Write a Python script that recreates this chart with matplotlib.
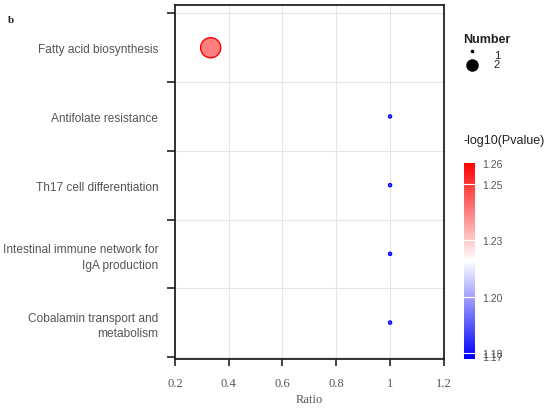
import matplotlib.pyplot as plt
import matplotlib.colors as mcolors
import numpy as np
from matplotlib.lines import Line2D

# datos
pathways = ["Cobalamin transport and\nmetabolism",
            "Intestinal immune network for\nIgA production",
            "Th17 cell differentiation",
            "Antifolate resistance",
            "Fatty acid biosynthesis"]
ratio = [1.0, 1.0, 1.0, 1.0, 0.333]
number = [1, 1, 1, 1, 2]
neglogp = [1.172, 1.172, 1.172, 1.172, 1.259]

cbar_ticks = [1.1732, 1.1747, 1.1995, 1.2245, 1.2495, 1.2590]
cbar_labels = ["1.17", "1.18", "1.20", "1.23", "1.25", "1.26"]
x_ticks = [0.2, 0.4, 0.6, 0.8, 1.0, 1.2]
x_ticklabels = ["0.2", "0.4", "0.6", "0.8", "1", "1.2"]

size_map = {1: 5, 2: 210}
legend_size = {1: 1.6, 2: 8.0}

vmin, vmax = 1.172, 1.259
cmap = mcolors.LinearSegmentedColormap.from_list("bwr2", ["#0000ff", "#ffffff", "#ff0000"])
norm = mcolors.Normalize(vmin=vmin, vmax=vmax)

gray = "#555555"
sans = ["Liberation Sans", "DejaVu Sans"]
serif = ["Liberation Serif", "DejaVu Serif"]

fig = plt.figure(figsize=(5.5, 4.1), dpi=100)
ax = fig.add_axes([0.318, 0.122, 0.489, 0.863])

y = np.arange(len(pathways))
colors = cmap(norm(neglogp))
face = colors.copy()
face[:, 3] = 0.5
ax.scatter(ratio, y, s=[size_map[n] for n in number], c=face,
           edgecolors=colors, linewidths=1.0, zorder=3)

ax.set_xlim(0.2, 1.2)
ax.set_ylim(-0.53, len(pathways) - 0.38)

ax.set_xticks(x_ticks)
ax.set_xticklabels(x_ticklabels, fontfamily=serif, fontsize=9, color=gray)
ax.set_xlabel("Ratio", fontfamily=serif, fontsize=9, color=gray, labelpad=3)

# marcas en los límites, etiquetas en el centro
ax.set_yticks(list(y - 0.5) + [len(pathways) - 0.5])
ax.set_yticklabels([""] * (len(y) + 1))
ax.set_yticks(y, minor=True)
ax.set_yticklabels(pathways, minor=True)
for lab in ax.get_yticklabels(minor=True):
    lab.set_fontfamily(sans)
    lab.set_fontsize(8.6)
    lab.set_color(gray)
    lab.set_multialignment("right")
    lab.set_linespacing(1.35)
ax.tick_params(axis="y", which="minor", length=0, pad=12)
ax.tick_params(axis="y", which="major", length=6, width=1.2, color="#222222")
ax.tick_params(axis="x", length=5, width=1.2, color="#222222", pad=8)

ax.grid(True, color="#e5e5e5", linewidth=0.8, zorder=0)
ax.set_axisbelow(True)
for side in ["left", "right", "top", "bottom"]:
    ax.spines[side].set_color("#222222")
    ax.spines[side].set_linewidth(1.3)

fig.text(0.015, 0.951, "b", fontfamily=serif, fontsize=8, fontweight="bold",
         color="#222222", va="center")

# leyenda de tamaño
fig.text(0.842, 0.902, "Number", fontfamily=sans, fontsize=9, fontweight="bold",
         color="#222222", va="center")
lg_y = [0.872, 0.838]
for n, yy in zip(sorted(size_map), lg_y):
    fig.add_artist(Line2D([0.858], [yy], marker="o", color="black",
                          markersize=legend_size[n], linestyle="none",
                          transform=fig.transFigure))
fig.text(0.898, 0.864, "1", fontfamily=sans, fontsize=8, color="#222222", va="center")
fig.text(0.898, 0.842, "2", fontfamily=sans, fontsize=8, color="#222222", va="center")

# barra de color
fig.text(0.843, 0.655, "-log10(Pvalue)", fontfamily=sans, fontsize=9,
         color="#222222", va="center")
cax = fig.add_axes([0.843, 0.122, 0.021, 0.479])
sm = plt.cm.ScalarMappable(cmap=cmap, norm=norm)
cb = fig.colorbar(sm, cax=cax)
cb.outline.set_visible(False)
cb.set_ticks(cbar_ticks)
cb.set_ticklabels(cbar_labels)
cb.ax.tick_params(length=0, labelsize=7.5, labelcolor=gray, pad=5)
for lab in cb.ax.get_yticklabels():
    lab.set_fontfamily(sans)
for t in cbar_ticks[1:-1]:
    cax.axhline(t, color="white", linewidth=0.8)

fig.savefig("out.png", dpi=100)
